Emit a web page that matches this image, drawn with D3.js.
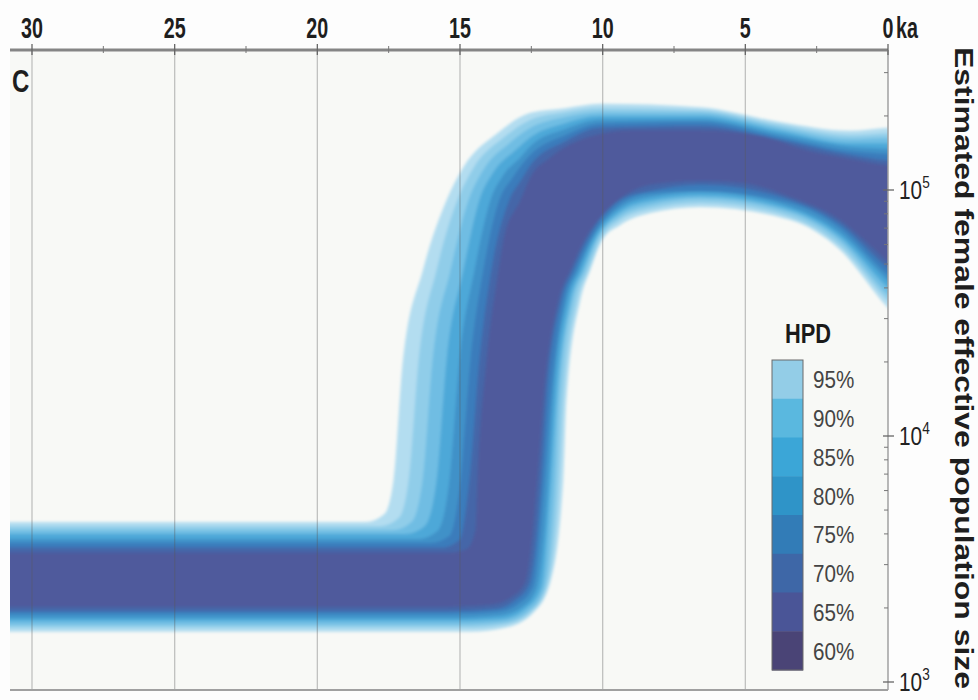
<!DOCTYPE html>
<html>
<head>
<meta charset="utf-8">
<script src="https://d3js.org/d3.v7.min.js"></script>
<style>
  body { margin: 0; background: #fdfdfd; }
  svg { display: block; }
</style>
</head>
<body>
<div id="chart"></div>
<script>

var levels = ['95%', '90%', '85%', '80%', '75%', '70%', '65%', '60%'];
var bandColors = ['#b3ddf0', '#90cde9', '#6fbde3', '#4ea8d8', '#3f91c8', '#3b7cbb', '#4466a8', '#4f5a9c'];
var legendColors = ['#93cde7', '#5ab8df', '#3ba6d7', '#2f94c8', '#327cb7', '#3e67a7', '#4a5597', '#4a4476'];

var xTicks = [30, 25, 20, 15, 10, 5, 0];
var xMinorTicks = [27.5, 22.5, 17.5, 12.5, 7.5, 2.5];
var yTicks = [1e3, 1e4, 1e5];
var yMinorTicks = [2e3, 3e3, 4e3, 5e3, 6e3, 7e3, 8e3, 9e3,
                   2e4, 3e4, 4e4, 5e4, 6e4, 7e4, 8e4, 9e4, 2e5, 3e5];

// HPD interval bounds, [ka, Ne]
var upper95 = [[32, 4470], [18.3, 4470], [17.65, 4820], [17.33, 6620], [17.0, 20400], [16.3, 47300], [15.47, 91100], [14.88, 124000], [13.69, 170000], [12.53, 206000], [11.31, 215000], [10.08, 224000], [6.58, 217000], [3.78, 189000], [1.33, 174000], [0, 179000], [-1, 181000]];
var upper90 = [[32, 4300], [17.78, 4300], [17.15, 4640], [16.8, 6620], [16.45, 20400], [15.82, 47300], [15.09, 91100], [14.53, 123000], [13.48, 163000], [12.53, 193000], [11.31, 207000], [10.08, 215000], [6.58, 211000], [3.78, 184000], [1.33, 167000], [0, 170000], [-1, 172000]];
var upper85 = [[32, 4150], [17.33, 4150], [16.7, 4470], [16.31, 6620], [15.96, 20400], [15.33, 47300], [14.7, 91100], [14.18, 121000], [13.27, 155000], [12.53, 179000], [11.31, 198000], [10.08, 207000], [6.58, 206000], [3.78, 179000], [1.33, 161000], [0, 163000], [-1, 164000]];
var upper80 = [[32, 4000], [16.91, 4000], [16.24, 4300], [15.82, 6620], [15.47, 20400], [14.88, 47300], [14.32, 91100], [13.83, 118000], [13.06, 145000], [12.53, 164000], [11.31, 187000], [10.08, 200000], [6.58, 200000], [3.78, 174000], [1.33, 155000], [0, 155000], [-1, 156000]];
var upper75 = [[32, 3810], [16.45, 3810], [15.79, 4110], [15.37, 6620], [15.02, 20400], [14.49, 47300], [13.93, 91100], [13.48, 115000], [12.88, 136000], [12.53, 151000], [11.31, 177000], [10.08, 193000], [6.58, 194000], [3.78, 169000], [1.33, 150000], [0, 147000], [-1, 146000]];
var upper70 = [[32, 3670], [16.03, 3670], [15.37, 3920], [14.98, 6620], [14.63, 20400], [14.18, 47300], [13.62, 91100], [13.16, 112000], [12.53, 139000], [11.31, 167000], [10.08, 186000], [6.58, 189000], [3.78, 164000], [1.33, 144000], [0, 140000], [-1, 139000]];
var upper65 = [[32, 3510], [15.68, 3510], [15.02, 3780], [14.67, 6620], [14.32, 20400], [13.9, 47300], [13.27, 91100], [12.85, 110000], [12.53, 126000], [11.31, 158000], [10.08, 179000], [6.58, 182000], [3.78, 160000], [1.33, 139000], [0, 132000], [-1, 131000]];
var upper60 = [[32, 3350], [15.4, 3350], [14.77, 3470], [14.46, 4150], [14.39, 6620], [14.07, 20400], [13.65, 47300], [13.48, 62600], [12.88, 91100], [12.53, 113000], [11.83, 136000], [10.78, 160000], [9.98, 170000], [9.03, 175000], [6.58, 175000], [4.48, 166000], [2.84, 145000], [1.33, 134000], [0, 126000], [-1, 124000]];

var lower95 = [[32, 1600], [14.63, 1600], [13.41, 1660], [12.43, 1910], [11.83, 2550], [11.38, 6620], [11.27, 14000], [10.78, 35700], [10.43, 47300], [10.01, 62600], [9.38, 72100], [8.33, 80600], [6.58, 85300], [3.43, 75500], [1.68, 57000], [0, 33100], [-1, 25800]];
var lower90 = [[32, 1660], [14.81, 1660], [13.44, 1710], [12.5, 1930], [11.94, 2460], [11.52, 6620], [11.38, 14000], [10.89, 35700], [10.5, 47300], [10.08, 62600], [9.38, 75500], [8.33, 83700], [6.58, 88600], [3.43, 77700], [1.68, 59200], [0, 35400], [-1, 28000]];
var lower85 = [[32, 1710], [14.98, 1710], [13.51, 1750], [12.6, 1940], [12.04, 2410], [11.66, 6620], [11.52, 14000], [11.03, 35700], [10.61, 47300], [10.19, 62600], [9.38, 78400], [8.33, 86900], [6.58, 91900], [3.43, 80600], [1.68, 62000], [0, 37400], [-1, 30000]];
var lower80 = [[32, 1770], [15.12, 1770], [13.55, 1800], [12.71, 1980], [12.15, 2410], [11.8, 6620], [11.62, 14000], [11.13, 35700], [10.71, 47300], [10.26, 62600], [9.38, 81400], [8.33, 90200], [6.58, 94500], [3.43, 82900], [1.68, 64400], [0, 40000], [-1, 32000]];
var lower75 = [[32, 1820], [15.26, 1820], [13.62, 1860], [12.81, 2020], [12.29, 2430], [11.9, 6620], [11.73, 14000], [11.24, 35700], [10.82, 47300], [10.36, 62600], [9.38, 84500], [8.33, 93600], [6.58, 98000], [3.43, 85300], [1.68, 66900], [0, 42700], [-1, 34000]];
var lower70 = [[32, 1890], [15.4, 1890], [13.69, 1930], [12.95, 2080], [12.43, 2460], [12.04, 6620], [11.83, 14000], [11.34, 35700], [10.92, 47300], [10.43, 62600], [9.38, 87700], [8.33, 97000], [6.58, 99000], [3.43, 88600], [1.68, 70100], [0, 45100], [-1, 37000]];
var lower65 = [[32, 1940], [15.54, 1940], [13.79, 1980], [13.09, 2140], [12.57, 2500], [12.15, 6620], [11.97, 14000], [11.45, 35700], [11.03, 47300], [10.54, 62600], [9.38, 91100], [8.33, 99000], [6.58, 105000], [3.43, 91100], [1.68, 72700], [0, 48200], [-1, 40000]];
var lower60 = [[32, 2020], [15.68, 2020], [13.93, 2060], [13.23, 2200], [12.71, 2550], [12.29, 6620], [12.08, 14000], [11.55, 35700], [11.13, 47300], [10.64, 62600], [9.84, 82900], [9.21, 95400], [8.33, 105000], [6.58, 109000], [5.18, 107000], [3.43, 93600], [1.68, 75500], [0.53, 58100], [0, 51000], [-1, 44000]];

var uppers = [upper95, upper90, upper85, upper80, upper75, upper70, upper65, upper60];
var lowers = [lower95, lower90, lower85, lower80, lower75, lower70, lower65, lower60];

var plot = {left: 10, right: 888, top: 50, bottom: 690};

var svg = d3.select('#chart').append('svg')
  .attr('width', 978)
  .attr('height', 700)
  .style('background-color', '#fdfdfd');

var x = d3.scaleLinear().domain([30, 0]).range([32, 888]);
var y = d3.scaleLog().domain([1e3, 1e5]).range([682, 190]);

var defs = svg.append('defs');
defs.append('clipPath').attr('id', 'plot-clip')
  .append('rect')
  .attr('x', plot.left).attr('y', plot.top)
  .attr('width', plot.right - plot.left)
  .attr('height', plot.bottom - plot.top);
defs.append('filter').attr('id', 'soft')
  .attr('x', '-5%').attr('y', '-5%').attr('width', '110%').attr('height', '110%')
  .append('feGaussianBlur').attr('stdDeviation', 1.8);

// plot background
svg.append('rect')
  .attr('x', plot.left).attr('y', plot.top)
  .attr('width', plot.right - plot.left)
  .attr('height', plot.bottom - plot.top)
  .attr('fill', '#f8f9f6');

var line = d3.line()
  .x(function(d) { return x(d[0]); })
  .y(function(d) { return y(d[1]); })
  .curve(d3.curveMonotoneX);

function bandPath(i) {
  var top = line(uppers[i]);
  var bottom = line(lowers[i].slice().reverse());
  return top + 'L' + bottom.slice(1) + 'Z';
}

var bandG = svg.append('g').attr('clip-path', 'url(#plot-clip)')
  .append('g').attr('filter', 'url(#soft)');

bandG.selectAll('path')
  .data(levels)
  .enter().append('path')
    .attr('d', function(d, i) { return bandPath(i); })
    .attr('fill', function(d, i) { return bandColors[i]; });

// vertical grid lines
svg.append('g').selectAll('line')
  .data(xTicks.filter(function(d) { return d > 0; }))
  .enter().append('line')
    .attr('x1', function(d) { return x(d); })
    .attr('x2', function(d) { return x(d); })
    .attr('y1', plot.top)
    .attr('y2', plot.bottom)
    .attr('stroke', 'rgba(90,90,90,0.35)')
    .attr('stroke-width', 1.3);

// frame
svg.append('line')
  .attr('x1', plot.left).attr('x2', plot.right)
  .attr('y1', plot.top).attr('y2', plot.top)
  .attr('stroke', '#858585').attr('stroke-width', 2.8);
svg.append('line')
  .attr('x1', plot.left).attr('x2', plot.right)
  .attr('y1', plot.bottom).attr('y2', plot.bottom)
  .attr('stroke', '#a0a0a0').attr('stroke-width', 2);
svg.append('line')
  .attr('x1', plot.right).attr('x2', plot.right)
  .attr('y1', plot.top).attr('y2', plot.bottom)
  .attr('stroke', '#a0a0a0').attr('stroke-width', 1.5);

// top axis ticks
svg.append('g').selectAll('line')
  .data(xTicks)
  .enter().append('line')
    .attr('x1', function(d) { return x(d); })
    .attr('x2', function(d) { return x(d); })
    .attr('y1', plot.top - 6).attr('y2', plot.top + 5)
    .attr('stroke', '#666').attr('stroke-width', 1.3);
svg.append('g').selectAll('line')
  .data(xMinorTicks)
  .enter().append('line')
    .attr('x1', function(d) { return x(d); })
    .attr('x2', function(d) { return x(d); })
    .attr('y1', plot.top - 4).attr('y2', plot.top + 3)
    .attr('stroke', '#777').attr('stroke-width', 1);

svg.append('g').selectAll('text')
  .data(xTicks)
  .enter().append('text')
    .attr('transform', function(d) { return 'translate(' + x(d) + ',38) scale(0.68,1)'; })
    .attr('text-anchor', 'middle')
    .attr('font-family', 'Liberation Sans, Arial, sans-serif')
    .attr('font-weight', 'bold')
    .attr('font-size', '29px')
    .attr('fill', '#1e1e1e')
    .text(function(d) { return d; });

svg.append('text')
  .attr('transform', 'translate(896,38) scale(0.68,1)')
  .attr('font-family', 'Liberation Sans, Arial, sans-serif')
  .attr('font-weight', 'bold')
  .attr('font-size', '29px')
  .attr('fill', '#1e1e1e')
  .text('ka');

// right axis ticks
svg.append('g').selectAll('line')
  .data(yMinorTicks)
  .enter().append('line')
    .attr('x1', plot.right - 4).attr('x2', plot.right)
    .attr('y1', function(d) { return y(d); })
    .attr('y2', function(d) { return y(d); })
    .attr('stroke', '#777').attr('stroke-width', 1);
svg.append('g').selectAll('line')
  .data(yTicks)
  .enter().append('line')
    .attr('x1', plot.right - 5).attr('x2', plot.right + 6)
    .attr('y1', function(d) { return y(d); })
    .attr('y2', function(d) { return y(d); })
    .attr('stroke', '#666').attr('stroke-width', 1.3);

var yLabels = svg.append('g').selectAll('text')
  .data(yTicks)
  .enter().append('text')
    .attr('transform', function(d) { return 'translate(899,' + (y(d) + 9) + ') scale(0.8,1)'; })
    .attr('font-family', 'Liberation Sans, Arial, sans-serif')
    .attr('font-size', '26px')
    .attr('fill', '#222');
yLabels.append('tspan').text('10');
yLabels.append('tspan')
  .attr('dy', -11)
  .attr('font-size', '17px')
  .text(function(d) { return Math.round(Math.log10(d)); });

// axis title
svg.append('text')
  .attr('transform', 'translate(955,368) rotate(90)')
  .attr('text-anchor', 'middle')
  .attr('font-family', 'Liberation Sans, Arial, sans-serif')
  .attr('font-weight', 'bold')
  .attr('font-size', '25px')
  .attr('textLength', 642)
  .attr('lengthAdjust', 'spacingAndGlyphs')
  .attr('fill', '#1e1e1e')
  .text('Estimated female effective population size');

// panel letter
svg.append('text')
  .attr('transform', 'translate(12,92) scale(0.75,1)')
  .attr('font-family', 'Liberation Sans, Arial, sans-serif')
  .attr('font-weight', 'bold')
  .attr('font-size', '32px')
  .attr('fill', '#1e1e1e')
  .text('C');

// legend
var legend = {x: 772, top: 360, seg: 38.75, w: 31};

svg.append('text')
  .attr('transform', 'translate(808,343) scale(0.78,1)')
  .attr('text-anchor', 'middle')
  .attr('font-family', 'Liberation Sans, Arial, sans-serif')
  .attr('font-weight', 'bold')
  .attr('font-size', '28px')
  .attr('fill', '#1a1a1a')
  .text('HPD');

svg.append('g').selectAll('rect')
  .data(levels)
  .enter().append('rect')
    .attr('x', legend.x)
    .attr('y', function(d, i) { return legend.top + i * legend.seg; })
    .attr('width', legend.w)
    .attr('height', legend.seg + 0.5)
    .attr('fill', function(d, i) { return legendColors[i]; });

svg.append('rect')
  .attr('x', legend.x).attr('y', legend.top)
  .attr('width', legend.w).attr('height', legend.seg * levels.length)
  .attr('fill', 'none')
  .attr('stroke', '#6a6a6a')
  .attr('stroke-width', 1);

svg.append('g').selectAll('text')
  .data(levels)
  .enter().append('text')
    .attr('transform', function(d, i) {
      return 'translate(813,' + (legend.top + i * legend.seg + legend.seg / 2 + 9) + ') scale(0.86,1)';
    })
    .attr('font-family', 'Liberation Sans, Arial, sans-serif')
    .attr('font-size', '24px')
    .attr('fill', '#444')
    .text(function(d) { return d; });

</script>
</body>
</html>
